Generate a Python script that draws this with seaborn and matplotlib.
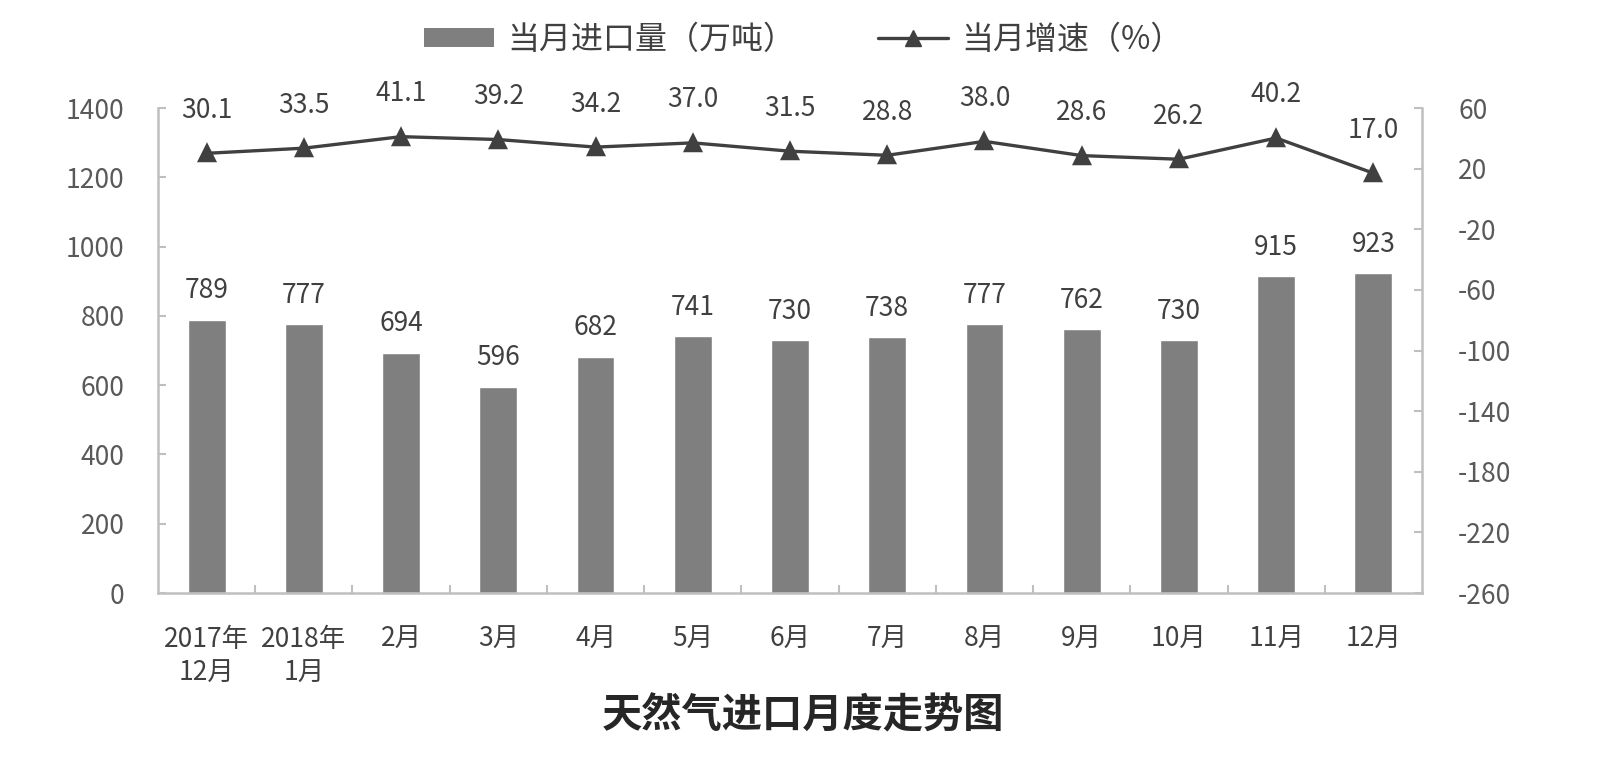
"""Monthly natural gas imports: bars for volume, line for year-on-year growth."""
import numpy as np
import pandas as pd
import seaborn as sns
import matplotlib
matplotlib.use('Agg')
import matplotlib.pyplot as plt
from matplotlib.patches import Patch
from matplotlib.lines import Line2D
from matplotlib.ticker import FixedLocator

# Data
months = ['2017年\n12月', '2018年\n1月', '2月', '3月', '4月', '5月', '6月',
          '7月', '8月', '9月', '10月', '11月', '12月']
imports = [789, 777, 694, 596, 682, 741, 730, 738, 777, 762, 730, 915, 923]
growth = [30.1, 33.5, 41.1, 39.2, 34.2, 37.0, 31.5, 28.8, 38.0, 28.6, 26.2, 40.2, 17.0]
left_ticks = [0, 200, 400, 600, 800, 1000, 1200, 1400]
right_ticks = [-260, -220, -180, -140, -100, -60, -20, 20, 60]

sns.set_style('white')
plt.rcParams['font.family'] = ['Noto Sans CJK SC', 'DejaVu Sans']
plt.rcParams['axes.unicode_minus'] = False

BAR_COLOR = '#7f7f7f'
LINE_COLOR = '#404040'
SPINE_COLOR = '#bfbfbf'
TEXT_COLOR = '#404040'

df = pd.DataFrame({'month': months, 'imports': imports, 'growth': growth})

fig = plt.figure(figsize=(16, 7.59), dpi=100)
ax = fig.add_axes([0.09875, 0.2187, 0.79, 0.639])

# Bars
sns.barplot(data=df, x='month', y='imports', color=BAR_COLOR, width=0.39,
            saturation=1, ax=ax)
for i, v in enumerate(imports):
    ax.annotate(f'{v}', (i, v), xytext=(0, 11), textcoords='offset points',
                ha='center', va='bottom', fontsize=19, color=TEXT_COLOR)

ax.set_ylim(0, 1400)
ax.set_yticks(left_ticks)
ax.set_xlim(-0.5, len(months) - 0.5)

# Line on secondary axis
ax2 = ax.twinx()
sns.pointplot(data=df, x='month', y='growth', color=LINE_COLOR, markers='^',
              markersize=12, linewidth=2.4, errorbar=None, ax=ax2)
for i, v in enumerate(growth):
    ax2.annotate(f'{v:.1f}', (i, v), xytext=(0, 31), textcoords='offset points',
                 ha='center', va='center', fontsize=19, color=TEXT_COLOR)
ax2.set_ylim(-260, 60)
ax2.set_yticks(right_ticks)
ax2.set_xlim(-0.5, len(months) - 0.5)

# Axes styling
for a in (ax, ax2):
    a.set_xlabel('')
    a.set_ylabel('')
    a.spines['top'].set_visible(False)
    for side in ('left', 'right', 'bottom'):
        a.spines[side].set_color(SPINE_COLOR)
        a.spines[side].set_linewidth(1.8)

ax.spines['right'].set_visible(False)
ax2.spines['left'].set_visible(False)
ax2.spines['bottom'].set_visible(False)

ax.set_xticks(range(len(months)))
ax.set_xticklabels(months)
ax.xaxis.set_minor_locator(FixedLocator(np.arange(0.5, len(months) - 0.5, 1)))
ax.tick_params(axis='x', which='major', length=0, pad=24, labelsize=19,
               labelcolor=TEXT_COLOR)
ax.tick_params(axis='x', which='minor', direction='in', length=6, width=1.5,
               color=SPINE_COLOR, bottom=True)
ax.tick_params(axis='y', direction='in', length=6, width=1.5, color=SPINE_COLOR,
               pad=24, labelsize=19, labelcolor='#595959')
ax2.tick_params(axis='y', direction='in', length=6, width=1.5, color=SPINE_COLOR,
                pad=26, labelsize=19, labelcolor='#595959')
for lbl in ax.get_xticklabels():
    lbl.set_linespacing(1.3)
    lbl.set_fontweight('medium')

# Legend
handles = [
    Patch(facecolor=BAR_COLOR, edgecolor='none', label='当月进口量（万吨）'),
    Line2D([], [], color=LINE_COLOR, linewidth=2.4, marker='^', markersize=11,
           label='当月增速（%）'),
]
fig.legend(handles=handles, loc='center', bbox_to_anchor=(0.502, 0.948), ncol=2,
           frameon=False, fontsize=23, handlelength=2.2, handleheight=0.55,
           columnspacing=2.6, handletextpad=0.4, labelcolor=TEXT_COLOR)

fig.text(0.502, 0.057, '天然气进口月度走势图', ha='center', va='center',
         fontsize=29, fontweight='bold', color='#262626')

fig.savefig('out.png', dpi=100)
